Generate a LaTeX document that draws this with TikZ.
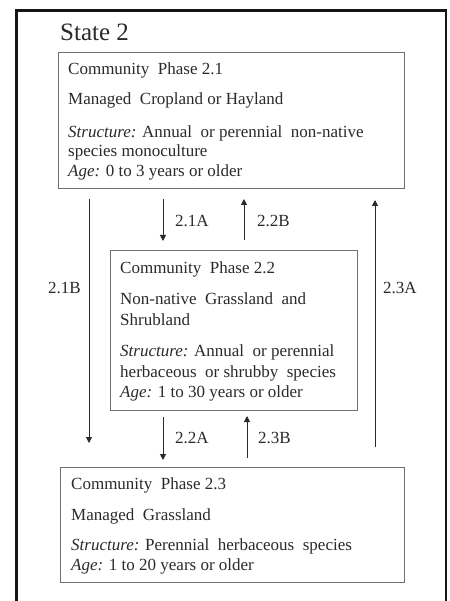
\documentclass[tikz,border=0pt]{standalone}
\usepackage{fontspec}
\setmainfont{Liberation Serif}
\usetikzlibrary{arrows.meta}
\definecolor{textgray}{HTML}{2A2A2A}
\definecolor{boxgray}{HTML}{707070}
\definecolor{framecol}{HTML}{151515}
\begin{document}
\begin{tikzpicture}[x=1pt,y=-1pt,
  phasebox/.style={draw=boxgray, line width=1.2pt, inner sep=0pt, anchor=north west},
  txt/.style={anchor=base west, inner sep=0pt, text=textgray, font=\fontsize{17}{19.5}\selectfont},
  conn/.style={draw=textgray, line width=1pt, -{Triangle[length=6pt,width=6pt]}}]
\useasboundingbox (0,0) rectangle (449,601);
\fill[white] (0,0) rectangle (449,601);
% outer frame
\draw[framecol, line width=2.5pt] (16.5,601) -- (16.5,10.5) -- (446,10.5) -- (446,601);
\node[anchor=base west, inner sep=0pt, text=textgray, font=\fontsize{25}{28}\selectfont] (title) at (60,41) {State 2};
% boxes
\node[phasebox, minimum width=346pt, minimum height=136pt] (p21) at (58,52) {};
\node[phasebox, minimum width=247pt, minimum height=160pt] (p22) at (110,250) {};
\node[phasebox, minimum width=344pt, minimum height=115pt] (p23) at (60,467) {};
% box 2.1 text
\node[txt] (a1) at (68,75) {Community\ \ Phase 2.1};
\node[txt] (a2) at (68,105) {Managed\ \ Cropland or Hayland};
\node[txt] (a3) at (68,138) {\textit{Structure:} Annual\ \ or perennial\ \ non-native};
\node[txt] (a4) at (68,157) {species monoculture};
\node[txt] (a5) at (68,177) {\textit{Age:} 0 to 3 years or older};
% box 2.2 text
\node[txt] (b1) at (120,273) {Community\ \ Phase 2.2};
\node[txt] (b2) at (120,304) {Non-native\ \ Grassland\ \ and};
\node[txt] (b3) at (120,325) {Shrubland};
\node[txt] (b4) at (120,356) {\textit{Structure:} Annual\ \ or perennial};
\node[txt] (b5) at (120,377) {herbaceous\ \ or shrubby\ \ species};
\node[txt] (b6) at (120,397) {\textit{Age:} 1 to 30 years or older};
% box 2.3 text
\node[txt] (c1) at (71,489) {Community\ \ Phase 2.3};
\node[txt] (c2) at (71,520) {Managed\ \ Grassland};
\node[txt] (c3) at (71,550) {\textit{Structure:} Perennial\ \ herbaceous\ \ species};
\node[txt] (c4) at (71,570) {\textit{Age:} 1 to 20 years or older};
% connector endpoints
\coordinate (s21B) at (89,199);  \coordinate (e21B) at (89,443);
\coordinate (s21A) at (163,199); \coordinate (e21A) at (163,241);
\coordinate (s22B) at (244,240); \coordinate (e22B) at (244,199);
\coordinate (s23A) at (375,447); \coordinate (e23A) at (375,200);
\coordinate (s22A) at (163,417); \coordinate (e22A) at (163,460);
\coordinate (s23B) at (247,458); \coordinate (e23B) at (247,416);
\draw[conn] (s21B) -- (e21B);
\draw[conn] (s21A) -- (e21A);
\draw[conn] (s22B) -- (e22B);
\draw[conn] (s23A) -- (e23A);
\draw[conn] (s22A) -- (e22A);
\draw[conn] (s23B) -- (e23B);
% labels
\node[txt] (l21B) at (48,293) {2.1B};
\node[txt] (l21A) at (175,227) {2.1A};
\node[txt] (l22B) at (257,227) {2.2B};
\node[txt] (l23A) at (383,293) {2.3A};
\node[txt] (l22A) at (175,443) {2.2A};
\node[txt] (l23B) at (258,443) {2.3B};
\end{tikzpicture}
\end{document}
